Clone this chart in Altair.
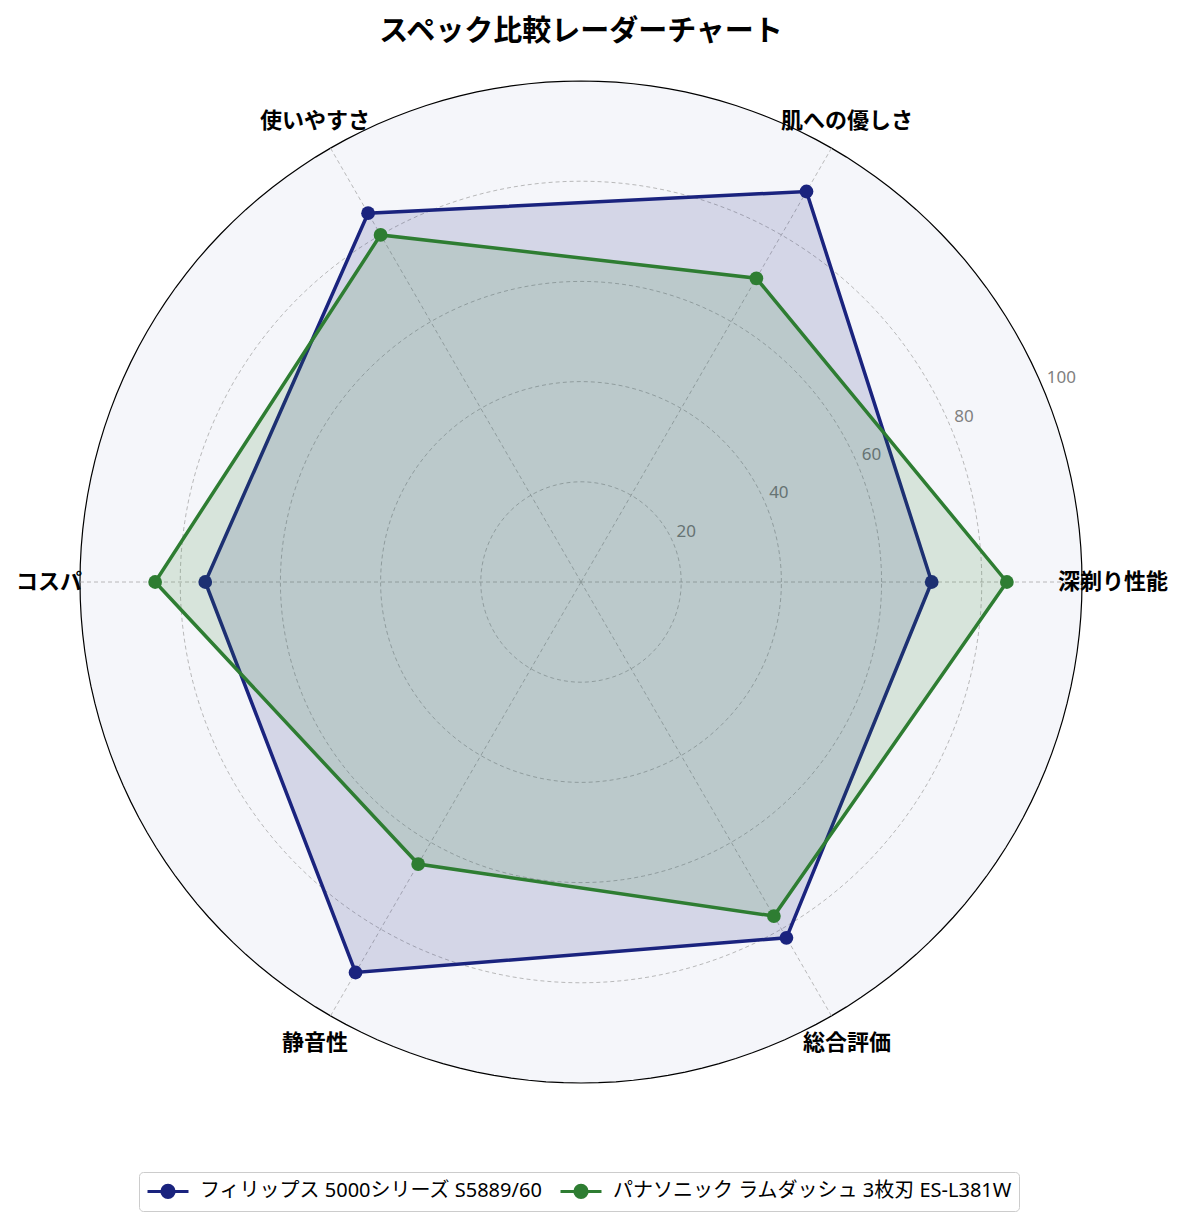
import altair as alt
import pandas as pd

# ---------------- data ----------------
categories = ["深剃り性能", "肌への優しさ", "使いやすさ", "コスパ", "静音性", "総合評価"]
series_names = ["フィリップス 5000シリーズ S5889/60", "パナソニック ラムダッシュ 3枚刃 ES-L381W"]
philips = [70, 90, 85, 75, 90, 82]
panasonic = [85, 70, 80, 85, 65, 77]
ring_ticks = [20, 40, 60, 80, 100]
tick_labels = ["20", "40", "60", "80", "100"]
colors = ["#1a237e", "#2e7d32"]

FONT = "Noto Sans CJK JP"
MIXED = "Noto Sans, Noto Sans CJK JP"
n = len(categories)

rows = []
for name, vals in zip(series_names, [philips, panasonic]):
    for i in range(n + 1):
        k = i % n
        rows.append({"series": name, "idx": i, "category": categories[k],
                     "value": vals[k], "angle": 360.0 * k / n})
df = pd.DataFrame(rows)

cat_df = pd.DataFrame({"category": categories,
                       "angle": [360.0 * k / n for k in range(n)]})
ring_df = pd.DataFrame([{"tick": t, "step": s} for t in ring_ticks for s in range(0, 361, 2)])
tick_df = pd.DataFrame({"tick": ring_ticks, "label": tick_labels})

# ---------------- scales ----------------
W, H = 1136, 1044
PX = 5.0101
XD = W / 2 / PX
YD = H / 2 / PX
xs = alt.Scale(domain=[-XD, XD], nice=False, zero=False)
ys = alt.Scale(domain=[-YD, YD], nice=False, zero=False)
X = lambda f: alt.X(f, type="quantitative", scale=xs, axis=None)
Y = lambda f: alt.Y(f, type="quantitative", scale=ys, axis=None)

stroke_scale = alt.Scale(domain=series_names, range=colors)
fill_scale = alt.Scale(domain=series_names, range=colors)

SYMBOL = "M-2,0L2,0M-0.6,0A0.6,0.6,0,1,1,0.6,0A0.6,0.6,0,1,1,-0.6,0Z"
leg = alt.Legend(title=None, orient="none", legendX=126, legendY=1112,
                 direction="horizontal", symbolType=SYMBOL, symbolSize=420,
                 symbolStrokeWidth=3, symbolOffset=10, labelFont=MIXED, labelFontSize=20,
                 labelColor="black", labelLimit=0, fillColor="white", strokeColor="#cccccc",
                 cornerRadius=4, padding=7, columnPadding=10, labelOffset=20,
                 symbolOpacity=1)

# ---------------- layers ----------------
ring_base = alt.Chart(ring_df).transform_calculate(
    x="datum.tick * cos(datum.step * PI / 180)",
    y="datum.tick * sin(datum.step * PI / 180)",
)
background = ring_base.transform_filter("datum.tick == 100").mark_line(
    fill="#f5f6fa", stroke="black", strokeWidth=1.2
).encode(x=X("x"), y=Y("y"), order=alt.Order("step:Q"))

grid = ring_base.transform_filter("datum.tick < 100").mark_line(
    stroke="#a8a8a8", strokeWidth=0.8, strokeDash=[4, 3]
).encode(x=X("x"), y=Y("y"), detail="tick:N", order=alt.Order("step:Q"))

spokes = alt.Chart(cat_df).transform_calculate(
    x0="0", y0="0",
    x1="100 * cos(datum.angle * PI / 180)",
    y1="100 * sin(datum.angle * PI / 180)",
).mark_rule(stroke="#a8a8a8", strokeWidth=0.8, strokeDash=[4, 3]).encode(
    x=X("x0"), y=Y("y0"), x2="x1:Q", y2="y1:Q"
)

tick_text = alt.Chart(tick_df).transform_calculate(
    x="datum.tick * cos(22.5 * PI / 180)",
    y="datum.tick * sin(22.5 * PI / 180)",
).mark_text(align="left", baseline="bottom", dx=3, dy=-3, font=MIXED,
            fontSize=17, color="#808080").encode(x=X("x"), y=Y("y"), text="label:N")

cat_text = alt.Chart(cat_df).transform_calculate(
    x="106.2 * cos(datum.angle * PI / 180)",
    y="106.2 * sin(datum.angle * PI / 180)",
).mark_text(align="center", baseline="middle", font=FONT, fontSize=22,
            fontWeight="bold", color="black").encode(x=X("x"), y=Y("y"), text="category:N")

series_base = alt.Chart(df).transform_calculate(
    x="datum.value * cos(datum.angle * PI / 180)",
    y="datum.value * sin(datum.angle * PI / 180)",
)

layers = [background, grid, spokes, tick_text]
for name, col in zip(series_names, colors):
    sb = series_base.transform_filter(alt.datum.series == name)
    fill_layer = sb.mark_line(fill=col, fillOpacity=0.15, strokeWidth=0, strokeOpacity=0).encode(
        x=X("x"), y=Y("y"), order=alt.Order("idx:Q"))
    line_layer = sb.mark_line(strokeWidth=3.5).encode(
        x=X("x"), y=Y("y"), order=alt.Order("idx:Q"),
        stroke=alt.Stroke("series:N", scale=stroke_scale, legend=leg))
    point_layer = sb.transform_filter("datum.idx < 6").mark_point(
        filled=True, size=190, opacity=1).encode(
        x=X("x"), y=Y("y"),
        fill=alt.Fill("series:N", scale=fill_scale, legend=leg))
    layers += [fill_layer, line_layer, point_layer]
layers.append(cat_text)

chart = alt.layer(*layers).properties(
    width=W, height=H,
    padding={"left": 5, "top": 10, "right": 5, "bottom": 0},
    title=alt.TitleParams("スペック比較レーダーチャート", font=FONT, fontSize=29,
                          fontWeight="bold", anchor="middle", offset=13, color="black"),
).configure_view(strokeWidth=0)

chart.save("out.html", embed_options={"renderer": "svg", "actions": False})
